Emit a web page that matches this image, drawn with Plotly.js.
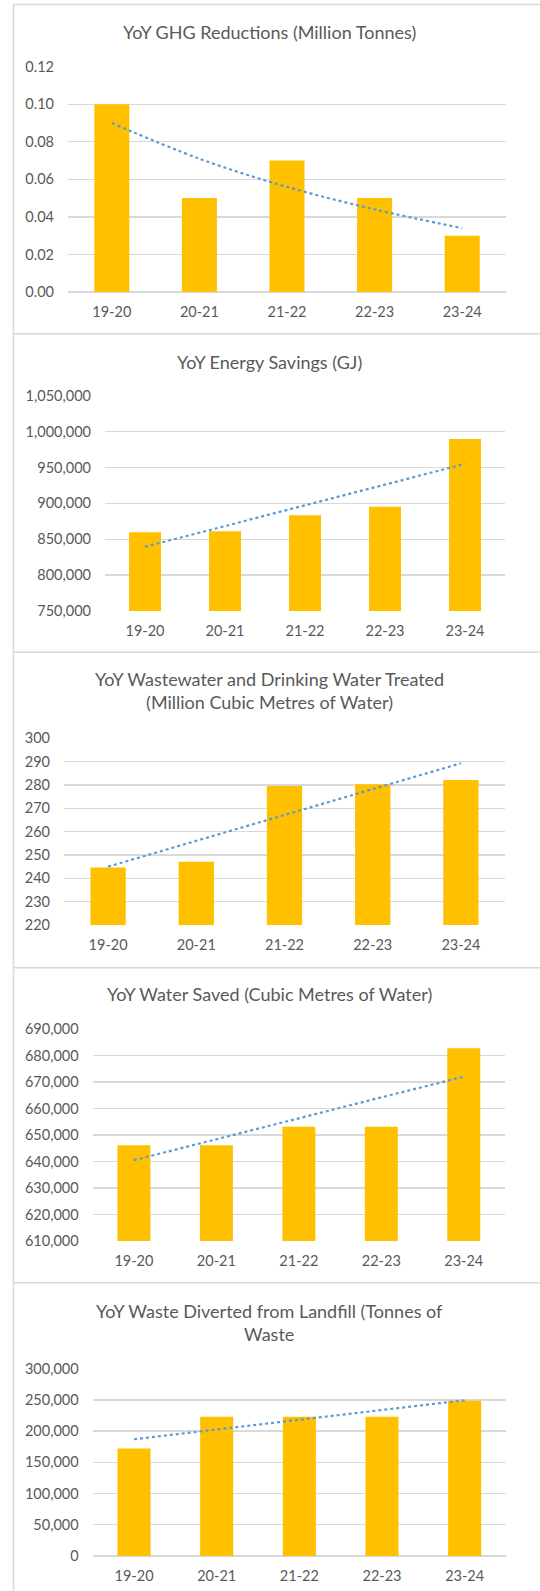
<!DOCTYPE html>
<html>
<head>
<meta charset="utf-8">
<script src="https://cdn.plot.ly/plotly-3.0.1.min.js"></script>
<style>
  html, body { margin: 0; padding: 0; background: #ffffff; }
  #chart { width: 540px; height: 1591px; }
</style>
</head>
<body>
<div id="chart"></div>
<script>
// ---- Data ----
const categories = ['19-20', '20-21', '21-22', '22-23', '23-24'];

const ghgTitle = 'YoY GHG Reductions (Million Tonnes)';
const ghgValues = [0.10, 0.05, 0.07, 0.05, 0.03];
const ghgTrend = [0.090, 0.071, 0.056, 0.044, 0.034];

const energyTitle = 'YoY Energy Savings (GJ)';
const energyValues = [859600, 861000, 883300, 895400, 989600];
const energyTrend = [839500, 868500, 897000, 926000, 955000];

const treatedTitle = 'YoY Wastewater and Drinking Water Treated<br>(Million Cubic Metres of Water)';
const treatedValues = [244.6, 247.1, 279.6, 280.3, 282.1];
const treatedTrend = [245.0, 256.0, 267.0, 278.0, 289.3];

const savedTitle = 'YoY Water Saved (Cubic Metres of Water)';
const savedValues = [646100, 646100, 653100, 653100, 682700];
const savedTrend = [640500, 648500, 656300, 664200, 672000];

const wasteTitle = 'YoY Waste Diverted from Landfill (Tonnes of<br>Waste';
const wasteValues = [172000, 223200, 223200, 223200, 248800];
const wasteTrend = [187000, 202500, 218000, 233500, 249500];

// ---- Layout helpers ----
const W = 540, H = 1591;
const px = x => x / W;
const py = y => 1 - y / H;

const FONT = 'Lato, "Open Sans", sans-serif';
const TXT = '#595959';
const GRID = '#d9d9d9';
const BAR = '#FFC000';
const TREND = '#5B9BD5';

const panels = [
  {title: ghgTitle, vals: ghgValues, trend: ghgTrend, spline: true,
   x: [68, 506], y: [66.7, 292], range: [0, 0.12], dtick: 0.02, fmt: '.2f', ty: 32},
  {title: energyTitle, vals: energyValues, trend: energyTrend,
   x: [105, 505], y: [395.7, 611], range: [750000, 1050000], dtick: 50000, fmt: ',d', ty: 362},
  {title: treatedTitle, vals: treatedValues, trend: treatedTrend,
   x: [64, 505], y: [738.3, 925], range: [220, 300], dtick: 10, fmt: 'd', ty: 690.5},
  {title: savedTitle, vals: savedValues, trend: savedTrend,
   x: [92.7, 505], y: [1029, 1241], range: [610000, 690000], dtick: 10000, fmt: ',d', ty: 994},
  {title: wasteTitle, vals: wasteValues, trend: wasteTrend,
   x: [92.7, 506], y: [1368.7, 1556], range: [0, 300000], dtick: 50000, fmt: ',d', ty: 1322}
];

const data = [];
const layout = {
  width: W, height: H,
  margin: {l: 0, r: 0, t: 0, b: 0},
  paper_bgcolor: '#ffffff',
  plot_bgcolor: '#ffffff',
  showlegend: false,
  bargap: 0.6,
  font: {family: FONT, color: TXT},
  annotations: [],
  shapes: []
};

panels.forEach((p, i) => {
  const n = i + 1;
  const xa = 'x' + (n === 1 ? '' : n);
  const ya = 'y' + (n === 1 ? '' : n);
  data.push({
    type: 'bar', x: categories, y: p.vals, xaxis: xa, yaxis: ya,
    marker: {color: BAR}, hoverinfo: 'x+y'
  });
  data.push({
    type: 'scatter', mode: 'lines', x: categories, y: p.trend, xaxis: xa, yaxis: ya,
    line: {color: TREND, width: 2.2, dash: 'dot', shape: p.spline ? 'spline' : 'linear'},
    hoverinfo: 'skip'
  });
  layout['xaxis' + (n === 1 ? '' : n)] = {
    domain: [px(p.x[0]), px(p.x[1])],
    anchor: ya,
    type: 'category',
    showgrid: false, zeroline: false, showline: false,
    ticks: '',
    ticklabelstandoff: 9,
    tickfont: {family: FONT, size: 14.5, color: TXT},
    fixedrange: true
  };
  layout['yaxis' + (n === 1 ? '' : n)] = {
    domain: [py(p.y[1]), py(p.y[0])],
    anchor: xa,
    range: p.range,
    dtick: p.dtick,
    tick0: p.range[0],
    tickformat: p.fmt,
    showgrid: true, gridcolor: GRID, gridwidth: 1.3,
    zeroline: true, zerolinecolor: GRID, zerolinewidth: 1.3,
    showline: false,
    ticks: '',
    ticklabelstandoff: 13,
    tickfont: {family: FONT, size: 14.5, color: TXT},
    fixedrange: true
  };
  layout.annotations.push({
    xref: 'paper', yref: 'paper', x: px(269), y: py(p.ty),
    xanchor: 'center', yanchor: 'middle',
    text: p.title, showarrow: false,
    font: {family: FONT, size: 18, color: TXT}
  });
});

// panel borders
[4.5, 333.7, 652.3, 967.7, 1282.7].forEach(y => {
  layout.shapes.push({type: 'line', xref: 'paper', yref: 'paper',
    x0: px(13), x1: 1, y0: py(y), y1: py(y), line: {color: GRID, width: 1.6}});
});
layout.shapes.push({type: 'line', xref: 'paper', yref: 'paper',
  x0: px(13.5), x1: px(13.5), y0: py(4), y1: 0, line: {color: GRID, width: 1.6}});

Plotly.newPlot('chart', data, layout, {displayModeBar: false, staticPlot: true});
</script>
</body>
</html>
